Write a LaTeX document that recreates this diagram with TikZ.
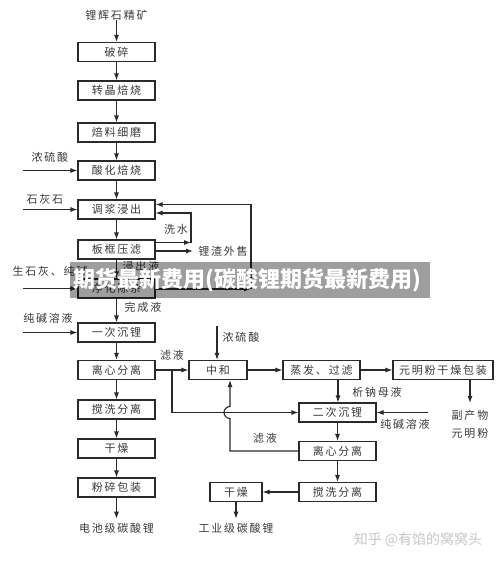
\documentclass[tikz,border=0pt]{standalone}
\usepackage{fontspec}
\usetikzlibrary{arrows.meta,calc}
\newfontfamily\cjk{Noto Sans CJK SC}[LetterSpace=16]
\newfontfamily\cjkw{Noto Sans CJK SC}
\definecolor{ink}{HTML}{2A2A2A}
\definecolor{txt}{HTML}{3A3A3A}
\begin{document}
\begin{tikzpicture}[x=1pt,y=-1pt,
  box/.style={draw=ink,line width=1.1pt,minimum width=77pt,minimum height=19pt,inner sep=0pt,text=txt},
  lbl/.style={text=txt,inner sep=0pt},
  arr/.style={draw=ink,line width=1.1pt,-{Latex[length=7pt,width=5pt]}},
  font=\cjk\fontsize{11}{13}\selectfont]
\fill[white] (0,0) rectangle (500,562);
\useasboundingbox (0,0) rectangle (500,562);
% main column
\node[lbl] (src) at (116.5,15) {锂辉石精矿};
\node[box] (b1) at (116.5,52) {破碎};
\node[box] (b2) at (116.5,90.5) {转晶焙烧};
\node[box] (b3) at (116.5,132.5) {焙料细磨};
\node[box] (b4) at (116.5,170.5) {酸化焙烧};
\node[box] (b5) at (116.5,209.5) {调浆浸出};
\node[box] (b6) at (116.5,249.5) {板框压滤};
\node[box] (b7) at (116.5,288.5) {净化除杂};
\node[box] (b8) at (116.5,332.5) {一次沉锂};
\node[box] (b9) at (116.5,370) {离心分离};
\node[box] (b10) at (116.5,409.5) {搅洗分离};
\node[box] (b11) at (116.5,448.5) {干燥};
\node[box] (b12) at (116.5,487.5) {粉碎包装};
\node[lbl] (out1) at (116.5,528) {电池级碳酸锂};
\draw[arr] (src) -- (b1);
\draw[arr] (b1) -- (b2);
\draw[arr] (b2) -- (b3);
\draw[arr] (b3) -- (b4);
\draw[arr] (b4) -- (b5);
\draw[arr] (b5) -- (b6);
\draw[arr] (b6) -- (b7);
\draw[arr] (b7) -- (b8);
\draw[arr] (b8) -- (b9);
\draw[arr] (b9) -- (b10);
\draw[arr] (b10) -- (b11);
\draw[arr] (b11) -- (b12);
\draw[arr,shorten >=4pt] (b12) -- (out1);
% left inputs
\node[lbl] (in1) at (50,157) {浓硫酸};
\coordinate (c1) at (23,170.5);
\draw[arr] (c1) -- (b4.west);
\node[lbl] (in2) at (45,199) {石灰石};
\coordinate (c2) at (23,209.5);
\draw[arr] (c2) -- (b5.west);
\node[lbl] (in3) at (50,271) {生石灰、纯碱};
\coordinate (c3) at (23,288.5);
\draw[arr] (c3) -- (b7.west);
\node[lbl] (in4) at (48,318) {纯碱溶液};
\coordinate (c4) at (23,332.5);
\draw[arr] (c4) -- (b8.west);
% loops
\coordinate (w1) at (191,242.5);
\coordinate (w2) at (191,213);
\draw[arr] (b6.east |- w1) -- (w1);
\draw[arr] (w1) -- (w2) -- (b5.east |- w2);
\node[lbl] (xs) at (176,229) {洗水};
\coordinate (lz) at (193,251);
\draw[arr] (b6.east |- lz) -- (lz);
\node[lbl] (lzt) at (223,251) {锂渣外售};
\coordinate (o1) at (251,289);
\coordinate (o2) at (251,204.5);
\draw[arr] (b7.east |- o1) -- (o1);
\draw[arr] (o1) -- (o2) -- (b5.east |- o2);
\node[lbl] (jc) at (141,266) {浸出液};
\node[lbl] (wc) at (143,307) {完成液};
\node[lbl] (ly1) at (172,355) {滤液};
% right part
\node[box,minimum width=58pt] (zh) at (218,370) {中和};
\node[box] (zf) at (321.5,370) {蒸发、过滤};
\node[box,minimum width=100pt] (ym) at (443,370) {元明粉干燥包装};
\node[box] (e1) at (337.5,412.5) {二次沉锂};
\node[box] (e2) at (337.5,451) {离心分离};
\node[box] (e3) at (337.5,492) {搅洗分离};
\node[box,minimum width=52pt] (e4) at (236,492) {干燥};
\node[lbl] (out2) at (236,528) {工业级碳酸锂};
\draw[arr] (b9.east) -- (zh.west);
\coordinate (br) at (172,370);
\draw[arr] (br) |- (e1.west);
\coordinate (hx) at (230,0);
\draw[arr] (e2.west) -- (e2.west -| hx) -- ($(hx |- e1.west)+(0,6)$) arc[start angle=90,end angle=270,radius=6] -- (zh.south -| hx);
\coordinate (hs) at (217,326);
\draw[arr] (hs) -- (zh.north -| hs);
\node[lbl] (ns) at (241,337) {浓硫酸};
\draw[arr] (zh.east) -- (zf.west);
\draw[arr] (zf.east) -- (ym.west);
\coordinate (vx) at (338,0);
\draw[arr] (zf.south -| vx) -- (e1.north -| vx);
\node[lbl] (xn) at (377,392) {析钠母液};
\coordinate (fc) at (470,403);
\draw[arr] (ym.south -| fc) -- (fc);
\node[lbl] (fp1) at (470,415) {副产物};
\node[lbl] (fp2) at (470,433) {元明粉};
\coordinate (cr) at (428,412.5);
\draw[arr] (cr) -- (e1.east);
\node[lbl] (cj) at (405,424) {纯碱溶液};
\draw[arr] (e1) -- (e2);
\draw[arr] (e2) -- (e3);
\draw[arr] (e3) -- (e4);
\draw[arr,shorten >=4pt] (e4) -- (out2);
\node[lbl] (ly2) at (265,438) {滤液};
% banner overlay
\fill[black,fill opacity=0.38] (70,262) rectangle (430,298);
\node[text=white,font=\cjkw\bfseries\fontsize{22}{24}\selectfont] (bn) at (247,280) {期货最新费用(碳酸锂期货最新费用)};
% watermark
\node[text=black!22,font=\cjkw\fontsize{14}{16}\selectfont] (wm) at (418,540) {知乎 @有馅的窝窝头};
\end{tikzpicture}
\end{document}
